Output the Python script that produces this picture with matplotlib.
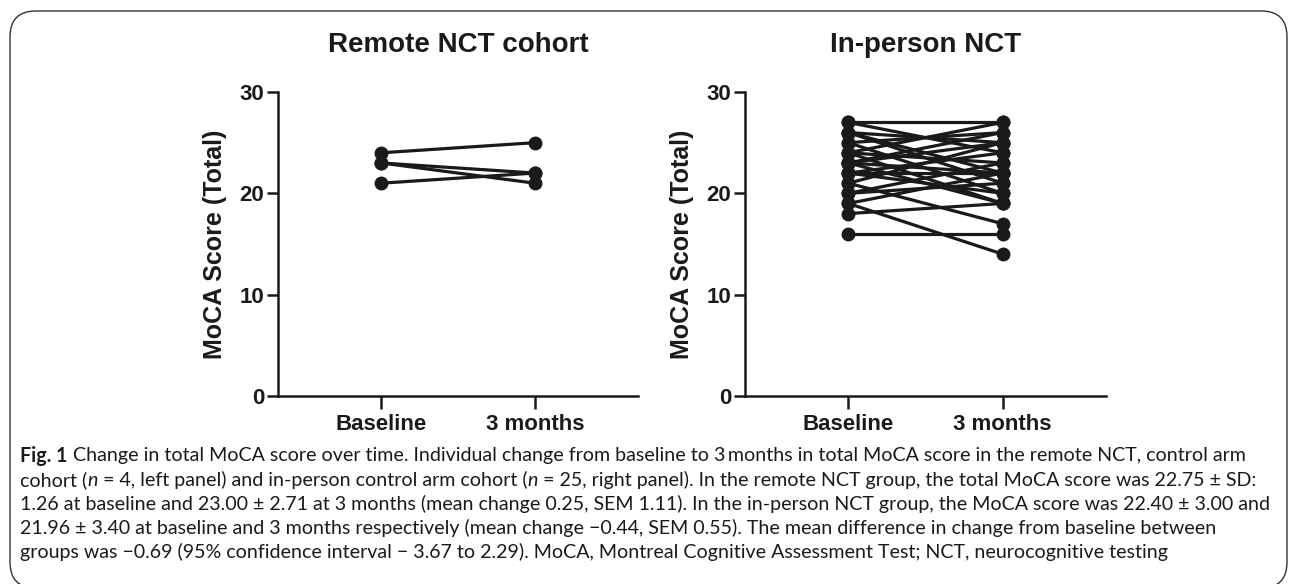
import matplotlib
matplotlib.use("Agg")
import matplotlib.pyplot as plt
from matplotlib.patches import FancyBboxPatch
import numpy as np

# ---------------- data ----------------
timepoints = ["Baseline", "3 months"]
remote_baseline = [24, 23, 23, 21]
remote_3m = [25, 22, 21, 22]

inperson_baseline = [27, 27, 26, 26, 26, 25, 25, 24, 24, 24, 23, 23, 23,
                     23, 22, 22, 22, 21, 21, 20, 20, 19, 19, 18, 16]
inperson_3m = [24, 27, 22, 25, 21, 26, 20, 27, 19, 23, 25, 22, 26,
               19, 24, 22, 20, 25, 17, 23, 21, 14, 22, 19, 16]

titles = ["Remote NCT cohort", "In-person NCT"]
ylabel = "MoCA Score (Total)"
yticks = [0, 10, 20, 30]

caption_lines = [
    [("Fig. 1", "bold", "normal"),
     (" Change in total MoCA score over time. Individual change from baseline to 3\u2009months in total MoCA score in the remote NCT, control arm", "normal", "normal")],
    [("cohort (", "normal", "normal"), ("n", "normal", "italic"),
     (" = 4, left panel) and in-person control arm cohort (", "normal", "normal"), ("n", "normal", "italic"),
     (" = 25, right panel). In the remote NCT group, the total MoCA score was 22.75 \u00b1 SD:", "normal", "normal")],
    [("1.26 at baseline and 23.00 \u00b1 2.71 at 3 months (mean change 0.25, SEM 1.11). In the in-person NCT group, the MoCA score was 22.40 \u00b1 3.00 and", "normal", "normal")],
    [("21.96 \u00b1 3.40 at baseline and 3 months respectively (mean change \u22120.44, SEM 0.55). The mean difference in change from baseline between", "normal", "normal")],
    [("groups was \u22120.69 (95% confidence interval \u2212 3.67 to 2.29). MoCA, Montreal Cognitive Assessment Test; NCT, neurocognitive testing", "normal", "normal")],
]

# ---------------- figure ----------------
W, H = 1290, 584
fig = plt.figure(figsize=(W / 100, H / 100), dpi=100)
plt.rcParams["font.family"] = ["Liberation Sans", "DejaVu Sans"]
ink = "#1a1a1a"

def fx(px):
    return px / W

def fy(py):
    return 1 - py / H

# rounded border (bottom edge runs just off the image)
border = FancyBboxPatch((fx(10), -4 / H), fx(1287 - 10), (573 + 4 - 0) / H,
                        boxstyle="round,pad=0,rounding_size=0.02",
                        transform=fig.transFigure, fill=False,
                        edgecolor="#333333", linewidth=1.0, mutation_aspect=W / H)
fig.patches.append(border)

ax_left = fig.add_axes([fx(278), fy(396), fx(638 - 278), (396 - 92) / H])
ax_right = fig.add_axes([fx(745), fy(396), fx(1106 - 745), (396 - 92) / H])

xpos = np.arange(len(timepoints))
datasets = [(remote_baseline, remote_3m), (inperson_baseline, inperson_3m)]

for ax, (b, m), title in zip([ax_left, ax_right], datasets, titles):
    for bv, mv in zip(b, m):
        ax.plot(xpos, [bv, mv], color=ink, linewidth=2.3, marker="o",
                markersize=9, markerfacecolor=ink, markeredgecolor=ink,
                solid_capstyle="butt", clip_on=False, zorder=3)
    ax.set_xlim(-0.67, 1.67)
    ax.set_ylim(0, 30)
    ax.set_yticks(yticks)
    ax.set_yticklabels([str(t) for t in yticks], fontsize=16, fontweight="bold", color=ink)
    ax.set_xticks(xpos)
    ax.set_xticklabels(timepoints, fontsize=16, fontweight="bold", color=ink)
    ax.tick_params(axis="y", direction="out", length=8, width=1.8, colors=ink, pad=2)
    ax.tick_params(axis="x", direction="out", length=9, width=1.8, colors=ink, pad=4)
    for s in ["top", "right"]:
        ax.spines[s].set_visible(False)
    for s in ["left", "bottom"]:
        ax.spines[s].set_linewidth(1.8)
        ax.spines[s].set_color(ink)
    ax.set_ylabel(ylabel, fontsize=18, fontweight="bold", color=ink, labelpad=9)
    ax.set_title(title, fontsize=20, fontweight="bold", color=ink, pad=29)

# ---------------- caption ----------------
cap_family = ["Lato", "DejaVu Sans"]
renderer = fig.canvas.get_renderer()

def line_width(runs, size):
    total = 0
    for txt, wt, st in runs:
        t = fig.text(0, 0, txt, fontsize=size, fontweight=wt, fontstyle=st, family=cap_family)
        bb = t.get_window_extent(renderer)
        total += bb.width
        t.remove()
    return total

targets = [1256 - 20, 1258 - 20, 1254 - 20]
base_size = 13.0
scales = [tg / line_width(caption_lines[i], base_size) for i, tg in enumerate(targets)]
cap_size = base_size * float(np.mean(scales))

line_y = [456, 480, 504, 528, 552]
for runs, yp in zip(caption_lines, line_y):
    x = 20
    for txt, wt, st in runs:
        t = fig.text(fx(x), fy(yp), txt, fontsize=cap_size, fontweight=wt,
                     fontstyle=st, family=cap_family, color=ink, va="center", ha="left")
        bb = t.get_window_extent(renderer)
        x += bb.width

fig.savefig("out.png", dpi=100)
